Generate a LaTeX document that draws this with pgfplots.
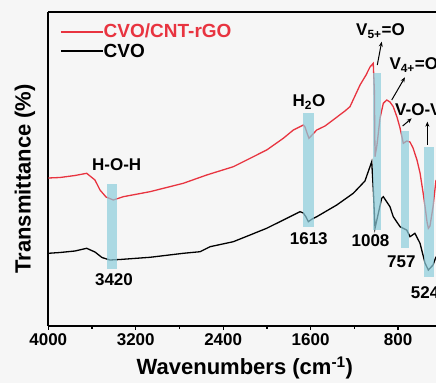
\documentclass[border=0pt]{standalone}
\usepackage{pgfplots}
\pgfplotsset{compat=1.18}
\usepackage{fontspec}
\setmainfont{Liberation Sans}
\usetikzlibrary{arrows.meta}
\definecolor{redc}{RGB}{232,52,64}
\definecolor{barc}{RGB}{140,205,220}
\definecolor{bgc}{RGB}{246,246,246}
\begin{document}
\begin{tikzpicture}
\fill[bgc] (-48.3pt,-57.3pt) rectangle (387.7pt,325.7pt);
\begin{axis}[
 at={(0,0)}, anchor=south west,
 scale only axis, width=387.7pt, height=313.7pt,
 x dir=reverse, xmin=453, xmax=4000, ymin=57.3, ymax=371,
 separate axis lines,
 axis x line=box, axis y line=left,
 x axis line style={-, line width=1.6pt}, y axis line style={-, line width=1.6pt},
 xtick={800,1600,2400,3200,4000}, minor xtick={1200,2000,2800,3600},
 ytick=\empty, xtick pos=bottom,
 tick align=outside, major tick length=4pt, minor tick length=3pt,
 tick style={line width=1.2pt, black},
 /pgf/number format/1000 sep={},
 /pgf/number format/assume math mode=true,
 xticklabel style={font=\fontsize{17}{17}\selectfont\bfseries},
 xlabel={Wavenumbers (cm\textsuperscript{-1})},
 xlabel style={at={(axis description cs:0.507,-0.157)}, anchor=base, font=\fontsize{22}{22}\selectfont\bfseries},
 ylabel={Transmittance (\%)},
 ylabel style={at={(axis description cs:-0.060,0.468)}, anchor=center, rotate=0, font=\fontsize{22}{22}\selectfont\bfseries},
 legend style={at={(axis description cs:0.03,0.962)}, anchor=north west, draw=none, fill=none,
   font=\fontsize{19}{19}\selectfont\bfseries, row sep=4.5pt, inner sep=0pt,
   nodes={inner sep=0pt}},
 legend cell align=left,
 legend image code/.code={\draw[#1, line width=1.6pt] (0pt,0pt) -- (42pt,0pt);},
]
\addplot[redc, line width=1.3pt] coordinates {
(4000,205)(3893,205.5)(3756,207.5)(3649,209.7)(3573,203)(3527,193)(3472,186)(3405,183)
(3314,186.3)(3070,191.3)(2765,199.7)(2551,208)(2307,216.3)(2002,233)(1850,244.7)(1758,253)
(1697,256.3)(1667,258)(1651,256)(1633,250)(1615,244.7)(1587,248)(1544,253)(1468,257)
(1395,263)(1286,272)(1240,276.3)(1148,298)(1093,308)(1057,316)(1027,319.7)(1017,293)
(1011,226.3)(993,238)(965,265)(935,279.7)(904,283)(874,281)(844,276.3)(810,266)(782,255)
(752,239.7)(721,242)(691,241)(663,235)(627,223)(599,210)(572,191)(553,176.3)(535,161)
(523,154.7)(508,157)(480,176.3)(453,203)};
\addlegendentry{\textcolor{redc}{CVO/CNT-rGO}}
\addplot[black, line width=1.3pt] coordinates {
(4000,129.7)(3893,130.5)(3756,132)(3649,134.7)(3573,131)(3509,125.5)(3437,123)(3345,123.5)
(3070,125.7)(2765,129.7)(2611,131.3)(2520,136.3)(2307,141.3)(2002,154.7)(1850,163)
(1697,171.3)(1667,170)(1642,166)(1621,161.3)(1587,164)(1544,166.3)(1361,178)(1210,189.7)
(1103,202)(1041,221.3)(1025,190)(1011,154.7)(984,168)(950,184.7)(935,186.3)(874,176.3)
(844,166.3)(782,156.3)(721,153)(691,146.3)(646,149.7)(599,139.7)(553,119.7)(523,113)
(480,118)(453,126.3)};
\addlegendentry{CVO}
\addplot[fill=barc, draw=none, fill opacity=0.7, forget plot] coordinates {(3466,113.7)(3369,113.7)(3369,199)(3466,199)};
\addplot[fill=barc, draw=none, fill opacity=0.7, forget plot] coordinates {(1667,156.3)(1566,156.3)(1566,269.7)(1667,269.7)};
\addplot[fill=barc, draw=none, fill opacity=0.7, forget plot] coordinates {(1032,153)(959,153)(959,309.7)(1032,309.7)};
\addplot[fill=barc, draw=none, fill opacity=0.7, forget plot] coordinates {(776,134.7)(697,134.7)(697,252.3)(776,252.3)};
\addplot[fill=barc, draw=none, fill opacity=0.7, forget plot] coordinates {(563,106.3)(471,106.3)(471,236.3)(563,236.3)};
\begin{scope}[every node/.style={font=\fontsize{17}{17}\selectfont\bfseries, inner sep=0pt}]
\node at (axis cs:3374,218) {H-O-H};
\node at (axis cs:3399,103) {3420};
\node at (axis cs:1615,281) {H\textsubscript{2}O};
\node at (axis cs:1617,144.7) {1613};
\node at (axis cs:961,352) {V\textsubscript{5+}=O};
\node at (axis cs:1052,142) {1008};
\node[anchor=west] at (axis cs:880,318) {V\textsubscript{4+}=O};
\node[anchor=west] at (axis cs:828,273) {V-O-V};
\node at (axis cs:770,121.3) {757};
\node[anchor=west] at (axis cs:684,90.3) {524};
\end{scope}
\begin{scope}[-{Stealth[length=5pt,width=4pt]}, line width=1pt]
\draw (axis cs:990,318) -- (axis cs:950,341.3);
\draw (axis cs:858,283) -- (axis cs:737,305.7);
\draw (axis cs:758,257) -- (axis cs:675,264.7);
\draw (axis cs:532,238) -- (axis cs:532,261.3);
\end{scope}
\end{axis}
\pgfresetboundingbox
\path[use as bounding box] (-48.3pt,-57.3pt) rectangle (387.7pt,325.7pt);
\end{tikzpicture}
\end{document}
